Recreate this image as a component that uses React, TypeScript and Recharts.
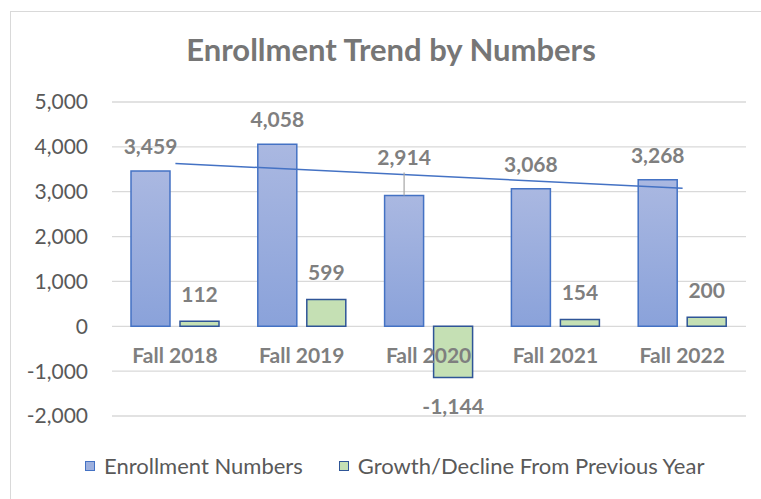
import React from 'react';
import {
  ComposedChart, Bar, Line, XAxis, YAxis, CartesianGrid, LabelList,
} from 'recharts';

// values
const categories = ['Fall 2018', 'Fall 2019', 'Fall 2020', 'Fall 2021', 'Fall 2022'];
const enrollment = [3459, 4058, 2914, 3068, 3268];
const growth = [112, 599, -1144, 154, 200];
// linear trendline of enrollment, read at its first and last point
const trendEnds = [3628, null, null, null, 3079];
const yTicks = [-2000, -1000, 0, 1000, 2000, 3000, 4000, 5000];

const data = categories.map((category, i) => ({
  category,
  enrollment: enrollment[i],
  growth: growth[i],
  trend: trendEnds[i],
}));

const FONT = 'Lato, "Noto Sans", sans-serif';
const LABEL_GREY = '#7F7F7F';
const AXIS_GREY = '#595959';
const BAR_GAP = 10;

// labels Excel pushed up above the trendline, with a leader line
const liftedLabels = new Set(['Fall 2020']);

const fmt = (v: number) => v.toLocaleString('en-US');

// LabelList hands the bar box either flat or as viewBox, depending on version
const getBox = (p: any) => {
  const src = typeof p.x === 'number' && typeof p.width === 'number' ? p : (p.viewBox || p);
  const x = Number(src.x);
  const y = Number(src.y);
  const w = Number(src.width);
  const h = Number(src.height);
  return { x, w, top: Math.min(y, y + h), bottom: Math.max(y, y + h) };
};

const EnrollmentLabel = (props: any) => {
  const { x, w, top } = getBox(props);
  const idx = props.index ?? 0;
  const lifted = liftedLabels.has(categories[idx]);
  const base = lifted ? top - 31 : top - 17;
  const cx = x + w / 2;
  return (
    <g>
      {lifted && <line x1={cx} x2={cx} y1={base + 8} y2={top} stroke="#A6A6A6" strokeWidth={1.2} />}
      <text x={cx} y={base} textAnchor="middle" fill={LABEL_GREY} fontFamily={FONT} fontWeight={700} fontSize={21}>
        {fmt(Number(props.value))}
      </text>
    </g>
  );
};

const GrowthLabel = (props: any) => {
  const { x, w, top, bottom } = getBox(props);
  const v = Number(props.value);
  const y = v >= 0 ? top - 19 : bottom + 36;
  return (
    <text x={x + w / 2} y={y} textAnchor="middle" fill={LABEL_GREY} fontFamily={FONT} fontWeight={700} fontSize={21}>
      {fmt(v)}
    </text>
  );
};

// category names sit just under the zero line, drawn on top of the bars
const CategoryLabel = (props: any) => {
  const { x, top, bottom } = getBox(props);
  const idx = props.index ?? 0;
  const zero = growth[idx] >= 0 ? bottom : top;
  return (
    <text x={x - BAR_GAP / 2} y={zero + 37} textAnchor="middle" fill={LABEL_GREY} fontFamily={FONT} fontWeight={700} fontSize={21}>
      {props.value}
    </text>
  );
};

const LegendItem = ({ fill, border, text }: { fill: string; border: string; text: string }) => (
  <div style={{ display: 'flex', alignItems: 'center' }}>
    <span style={{ width: 8, height: 8, background: fill, border: `1.5px solid ${border}`, marginRight: 9 }} />
    <span>{text}</span>
  </div>
);

const App = () => {
  return (
    <div style={{ position: 'fixed', left: 0, top: 0, width: 761, height: 499, overflow: 'hidden', background: '#fff' }}>
      <div style={{ position: 'absolute', left: 10, top: 11, width: 780, height: 520, border: '1px solid #D9D9D9', boxSizing: 'border-box' }}>
        <div style={{
          position: 'absolute', left: 0, width: 760, top: 22, textAlign: 'center',
          fontFamily: FONT, fontWeight: 700, fontSize: 31, lineHeight: '31px', color: '#767676',
        }}>
          Enrollment Trend by Numbers
        </div>

        <ComposedChart
          width={778}
          height={518}
          data={data}
          barSize={39}
          barGap={BAR_GAP}
          margin={{ top: 90, right: 43, bottom: 114, left: 21 }}
        >
          <defs>
            <linearGradient id="enrollFill" x1="0" y1="0" x2="0" y2="1">
              <stop offset="0%" stopColor="#AAB8E1" />
              <stop offset="100%" stopColor="#8AA2DA" />
            </linearGradient>
          </defs>
          <CartesianGrid vertical={false} stroke="#D9D9D9" strokeWidth={1.3} />
          <XAxis dataKey="category" hide />
          <YAxis
            width={80}
            domain={[-2000, 5000]}
            ticks={yTicks}
            tickFormatter={fmt}
            axisLine={false}
            tickLine={false}
            tickMargin={18}
            tick={{ fill: AXIS_GREY, fontSize: 21, fontFamily: FONT }}
          />
          <Bar dataKey="enrollment" name="Enrollment Numbers" fill="url(#enrollFill)" stroke="#4472C4" strokeWidth={1.5} isAnimationActive={false}>
            <LabelList dataKey="enrollment" content={EnrollmentLabel} />
          </Bar>
          <Bar dataKey="growth" name="Growth/Decline From Previous Year" fill="#C5E0B4" stroke="#2F5597" strokeWidth={1.5} isAnimationActive={false}>
            <LabelList dataKey="growth" content={GrowthLabel} />
            <LabelList dataKey="category" content={CategoryLabel} />
          </Bar>
          <Line
            dataKey="trend"
            type="linear"
            stroke="#4472C4"
            strokeWidth={1.5}
            dot={false}
            activeDot={false}
            connectNulls
            legendType="none"
            isAnimationActive={false}
          />
        </ComposedChart>

        <div style={{
          position: 'absolute', left: 74, top: 443, display: 'flex', gap: 36,
          fontFamily: FONT, fontSize: 22, lineHeight: '22px', color: AXIS_GREY,
        }}>
          <LegendItem fill="#9DB0DE" border="#4472C4" text="Enrollment Numbers" />
          <LegendItem fill="#C5E0B4" border="#2F5597" text="Growth/Decline From Previous Year" />
        </div>
      </div>
    </div>
  );
};

export default App;
